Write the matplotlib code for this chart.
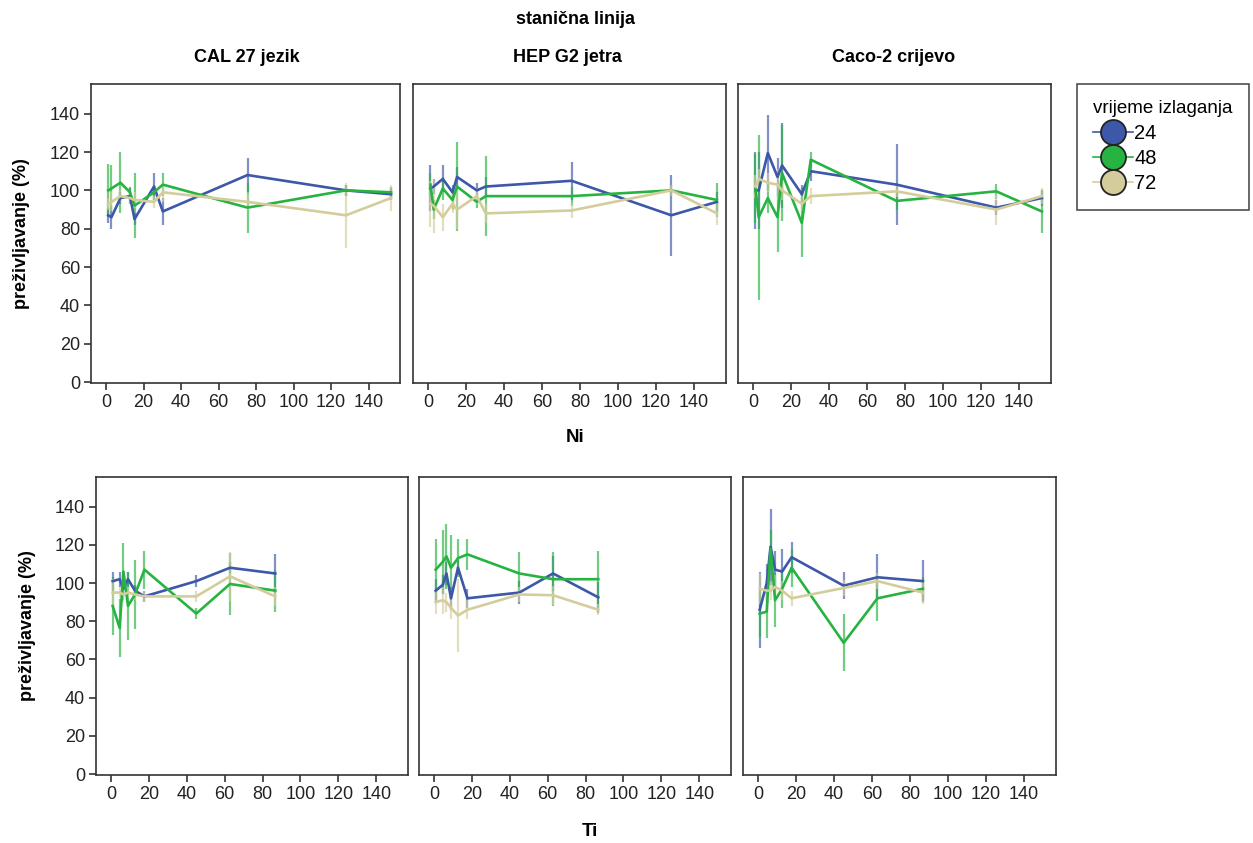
import matplotlib
matplotlib.use('Agg')
import matplotlib.pyplot as plt
from matplotlib.lines import Line2D
import numpy as np

plt.rcParams['font.family'] = ['Liberation Sans', 'DejaVu Sans']

cell_lines = ['CAL 27 jezik', 'HEP G2 jetra', 'Caco-2 crijevo']
times = ['24', '48', '72']
colors = {'24': '#3d57a9', '48': '#27b341', '72': '#d4cd9b'}

# Ni concentrations and survival (%), mean and error half-width
ni_x = [1.2, 2.9, 7.7, 12.8, 15.2, 25.6, 30.3, 75.5, 128, 152]
ni_cal_24 = [87, 86, 96, 97, 85, 102, 89, 108, 100, 98]
ni_cal_24_err = [4, 6, 3, 4, 3, 7, 7, 9, 3, 3]
ni_cal_48 = [100, 101, 104, 99, 92, 99, 103, 91, 100, 99]
ni_cal_48_err = [14, 12, 16, 3, 17, 4, 6, 13, 3, 3]
ni_cal_72 = [93, 94, 97, 96, 95, 94, 99, 94, 87, 96]
ni_cal_72_err = [3, 5, 3, 3, 4, 3, 5, 4, 17, 7]

ni_hep_24 = [101, 102, 106, 99, 107, 100, 102, 105, 87, 94]
ni_hep_24_err = [12, 4, 7, 4, 5, 4, 5, 10, 21, 5]
ni_hep_48 = [103, 90, 101, 95, 102, 94, 97, 97, 100, 95]
ni_hep_48_err = [6, 5, 6, 5, 23, 3, 21, 5, 3, 9]
ni_hep_72 = [93, 92, 86, 93, 90, 97, 88, 89.5, 100, 88]
ni_hep_72_err = [12, 14, 7, 5, 10, 4, 5, 4, 3, 6]

ni_caco_24 = [100, 100, 119.5, 107, 113, 98, 110, 103, 91, 96]
ni_caco_24_err = [20, 20, 20, 10, 22, 5, 5, 21, 4, 4]
ni_caco_48 = [101, 86, 96, 86, 109, 83, 116, 94.5, 99.5, 89]
ni_caco_48_err = [18, 43, 8, 18, 25, 18, 4, 5, 4, 11]
ni_caco_72 = [102, 106, 104, 103, 100, 93, 97, 99.5, 90, 97]
ni_caco_72_err = [6, 5, 5, 8, 5, 4, 4, 3, 8, 4]

# Ti concentrations
ti_x = [0.8, 4.5, 6.5, 8.9, 12.6, 17.6, 45, 62.8, 86.7]
ti_cal_24 = [101, 102, 97, 102, 96, 93, 101, 108, 105]
ti_cal_24_err = [5, 4, 4, 4, 3, 3, 3, 3, 10]
ti_cal_48 = [88, 76.5, 106, 88, 94, 107, 84, 99.5, 96]
ti_cal_48_err = [15, 15, 15, 18, 18, 10, 3, 16, 11]
ti_cal_72 = [95, 95, 94, 95, 94, 93, 93, 103.5, 93]
ti_cal_72_err = [7, 3, 4, 3, 3, 3, 3, 13, 5]

ti_hep_24 = [96, 99, 105, 92, 108, 92, 95, 105, 92.5]
ti_hep_24_err = [6, 5, 6, 6, 4, 5, 6, 9, 8]
ti_hep_48 = [107, 111, 114, 108, 113, 115, 105, 102, 102]
ti_hep_48_err = [16, 17, 17, 17, 10, 8, 11, 14, 15]
ti_hep_72 = [90, 91, 90, 87, 83, 86, 94, 93.6, 86]
ti_hep_72_err = [6, 7, 5, 6, 19, 5, 4, 5, 3]

ti_caco_24 = [86, 100, 119, 107, 106, 113.5, 98.6, 103, 101]
ti_caco_24_err = [20, 10, 20, 10, 12, 8, 7, 12, 11]
ti_caco_48 = [84, 85, 118, 91, 97, 108, 68.7, 92, 97]
ti_caco_48_err = [12, 14, 10, 14, 10, 10, 15, 12, 6]
ti_caco_72 = [97, 96, 96, 98, 96, 92, 97.4, 101, 95]
ti_caco_72_err = [8, 6, 5, 6, 5, 4, 4, 4, 6]

panels = [
    (ni_x, [(ni_cal_24, ni_cal_24_err), (ni_cal_48, ni_cal_48_err), (ni_cal_72, ni_cal_72_err)]),
    (ni_x, [(ni_hep_24, ni_hep_24_err), (ni_hep_48, ni_hep_48_err), (ni_hep_72, ni_hep_72_err)]),
    (ni_x, [(ni_caco_24, ni_caco_24_err), (ni_caco_48, ni_caco_48_err), (ni_caco_72, ni_caco_72_err)]),
    (ti_x, [(ti_cal_24, ti_cal_24_err), (ti_cal_48, ti_cal_48_err), (ti_cal_72, ti_cal_72_err)]),
    (ti_x, [(ti_hep_24, ti_hep_24_err), (ti_hep_48, ti_hep_48_err), (ti_hep_72, ti_hep_72_err)]),
    (ti_x, [(ti_caco_24, ti_caco_24_err), (ti_caco_48, ti_caco_48_err), (ti_caco_72, ti_caco_72_err)]),
]

W, H = 1253, 843
fig = plt.figure(figsize=(W / 100, H / 100), dpi=100)

# panel boxes in pixels: left, top, right, bottom
boxes = [(91, 84, 400, 383), (413, 84, 726, 383), (738, 84, 1051, 383),
         (96, 477, 408, 775), (419, 477, 731, 775), (743, 477, 1056, 775)]

for i, ((x, series), (l, t, r, b)) in enumerate(zip(panels, boxes)):
    ax = fig.add_axes([l / W, 1 - b / H, (r - l) / W, (b - t) / H])
    for tm, (y, e) in zip(times, series):
        y = np.array(y, dtype=float)
        e = np.array(e, dtype=float)
        ax.vlines(x, y - e, y + e, color=colors[tm], alpha=0.65, lw=1.6, zorder=2)
        ax.plot(x, y, color=colors[tm], lw=1.9, zorder=3)
    ax.set_xlim(-8, 156.8)
    ax.set_ylim(-0.5, 155.5)
    ax.set_xticks(range(0, 141, 20))
    ax.tick_params(axis='x', direction='out', length=5, width=1.2, colors='#333333',
                   labelsize=13, labelcolor='#222222', pad=3)
    if i % 3 == 0:
        ax.set_yticks(range(0, 141, 20))
        ax.tick_params(axis='y', direction='out', length=5, width=1.2, colors='#333333',
                       labelsize=13, labelcolor='#222222', pad=3)
        ax.set_ylabel('preživljavanje (%)', fontsize=13, fontweight='bold')
        lab_x = 30 if i == 0 else 36
        ax.yaxis.set_label_coords((lab_x - l) / (r - l), 0.5)
    else:
        ax.set_yticks([])
    for s in ax.spines.values():
        s.set_color('#333333')
        s.set_linewidth(1.2)

fig.text(575 / W, 1 - 20 / H, 'stanična linija', ha='center', va='center',
         fontsize=13, fontweight='bold')
for name, cx in zip(cell_lines, [247, 567, 894]):
    fig.text(cx / W, 1 - 58 / H, name, ha='center', va='center', fontsize=13, fontweight='bold')
fig.text(575 / W, 1 - 438 / H, 'Ni', ha='center', va='center', fontsize=13.5, fontweight='bold')
fig.text(590 / W, 1 - 832 / H, 'Ti', ha='center', va='center', fontsize=13.5, fontweight='bold')

handles = [Line2D([0], [0], color=colors[tm], lw=1.2, marker='o', markersize=18,
                  markerfacecolor=colors[tm], markeredgecolor='#222222', markeredgewidth=1.3)
           for tm in times]
leg = fig.legend(handles, times, title='vrijeme izlaganja', loc='upper left',
                 bbox_to_anchor=(1077 / W, 1 - 84 / H), fontsize=14.5, title_fontsize=13.5,
                 handlelength=2.0, handletextpad=0.05, labelspacing=0.32,
                 fancybox=False, edgecolor='#222222', borderpad=0.8, borderaxespad=0)
leg.get_frame().set_linewidth(1.2)
leg._legend_box.align = 'left'

fig.savefig('out.png', dpi=100)
